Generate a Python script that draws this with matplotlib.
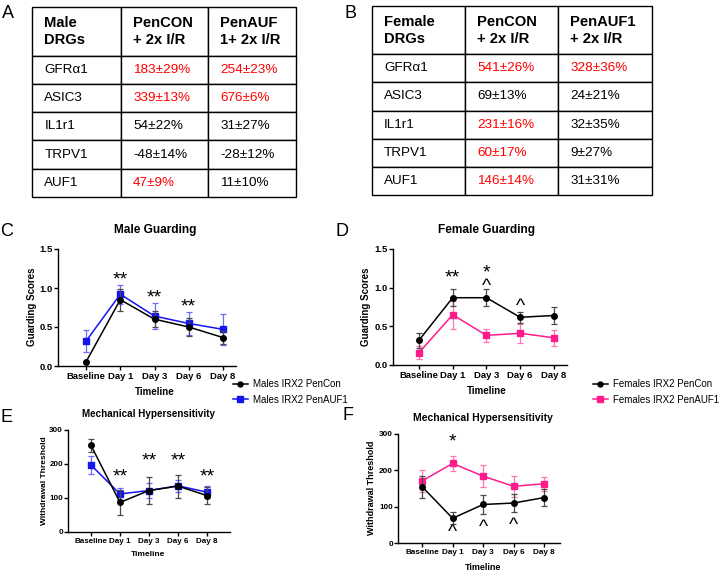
import matplotlib.pyplot as plt

# =====================
# 全局设置
# =====================
plt.rcParams['font.family'] = ['Liberation Sans', 'DejaVu Sans']

W, H = 720, 571

# =====================
# 数据
# =====================
genes = ['GFRα1', 'ASIC3', 'IL1r1', 'TRPV1', 'AUF1']

male_header = ['Male\nDRGs', 'PenCON\n+ 2x I/R', 'PenAUF\n1+ 2x I/R']
male_pencon = ['183±29%', '339±13%', '54±22%', '-48±14%', '47±9%']
male_penauf = ['254±23%', '676±6%', '31±27%', '-28±12%', '11±10%']
male_pencon_sig = [True, True, False, False, True]
male_penauf_sig = [True, True, False, False, False]

female_header = ['Female\nDRGs', 'PenCON\n+ 2x I/R', 'PenAUF1\n+ 2x I/R']
female_pencon = ['541±26%', '69±13%', '231±16%', '60±17%', '146±14%']
female_penauf = ['328±36%', '24±21%', '32±35%', '9±27%', '31±31%']
female_pencon_sig = [True, False, True, True, True]
female_penauf_sig = [True, False, False, False, False]

timeline = ['Baseline', 'Day 1', 'Day 3', 'Day 6', 'Day 8']

# C 雄性 guarding
male_guard_con = [0.055, 0.85, 0.60, 0.50, 0.365]
male_guard_con_err = [0.0, 0.14, 0.10, 0.11, 0.085]
male_guard_auf = [0.32, 0.92, 0.64, 0.545, 0.47]
male_guard_auf_err = [0.14, 0.12, 0.17, 0.15, 0.20]
male_guard_notes = [(1, '**', 1.145), (2, '**', 0.915), (3, '**', 0.80)]

# D 雌性 guarding
female_guard_con = [0.32, 0.87, 0.87, 0.617, 0.64]
female_guard_con_err = [0.10, 0.11, 0.11, 0.07, 0.115]
female_guard_auf = [0.16, 0.65, 0.383, 0.41, 0.352]
female_guard_auf_err = [0.08, 0.18, 0.08, 0.12, 0.105]
female_guard_notes = [(1, '**', 1.16), (2, '*\n^', 1.10), (3, '^', 0.81)]

# E 雄性 mechanical
male_mech_con = [255, 87, 122, 135, 107]
male_mech_con_err = [20, 38, 39, 34, 24]
male_mech_auf = [197, 112, 122, 136, 117]
male_mech_auf_err = [26, 17, 21, 17, 18]
male_mech_notes = [(1, '**', 171), (2, '**', 217), (3, '**', 218), (4, '**', 172)]

# F 雌性 mechanical
female_mech_con = [155, 68, 106, 110, 125]
female_mech_con_err = [30, 17, 25, 26, 23]
female_mech_auf = [171, 219, 184, 156, 163]
female_mech_auf_err = [31, 21, 30, 29, 20]
female_mech_notes = [(1, '*', 287), (1, '^', 39), (2, '^', 53), (3, '^', 60)]

BLUE = '#1414f0'
BLUE_ERR = '#6a6aff'
PINK = '#ff1c8a'
PINK_ERR = '#ff74b4'
RED = '#ff0000'


def add_ax(fig, box):
    l, t, r, b = box
    return fig.add_axes([l / W, 1 - b / H, (r - l) / W, (b - t) / H])


def px_ax(box, px, py):
    l, t, r, b = box
    return (px - l) / (r - l), (b - py) / (b - t)


# =====================
# 表格
# =====================
def draw_table(ax, header, col1, col2, sig1, sig2, col_w, pad):
    ax.axis('off')
    rows = [header] + [[g, a, b] for g, a, b in zip(genes, col1, col2)]
    tbl = ax.table(cellText=rows, cellLoc='left', colWidths=col_w,
                   bbox=[0, 0, 1, 1])
    tbl.auto_set_font_size(False)
    for (r, c), cell in tbl.get_celld().items():
        cell.set_height(48 if r == 0 else 28)
        cell.set_linewidth(1.0)
        cell.PAD = pad
        txt = cell.get_text()
        txt.set_linespacing(1.25)
        if r == 0:
            txt.set_fontweight('bold')
            txt.set_fontsize(10.6)
        else:
            txt.set_fontsize(9.7)
            if (c == 1 and sig1[r - 1]) or (c == 2 and sig2[r - 1]):
                txt.set_color(RED)


# =====================
# 折线图
# =====================
def draw_lines(ax, box, con, con_err, auf, auf_err, color, ecolor,
               labels, notes, yticks, ylabels, xlim,
               tick_fs, ylabel, ylabel_pos, xlabel_pos, label_fs,
               legend_pos=None):
    x = list(range(len(timeline)))
    ax.errorbar(x, auf, yerr=auf_err, fmt='none', ecolor=ecolor,
                elinewidth=0.9, capsize=2.5, capthick=0.9, zorder=2)
    h_auf, = ax.plot(x, auf, color=color, marker='s', ms=4.2, lw=1.1,
                     label=labels[1], zorder=3)
    ax.errorbar(x, con, yerr=con_err, fmt='none', ecolor='#4a4a4a',
                elinewidth=0.9, capsize=2.5, capthick=0.9, zorder=4)
    h_con, = ax.plot(x, con, color='black', marker='o', ms=4, lw=1.1,
                     label=labels[0], zorder=5)

    for i, s, yv in notes:
        if '\n' in s:
            dy = 0
        elif '*' in s:
            dy = -2.2
        else:
            dy = -3
        ax.annotate(s, xy=(i, yv), xytext=(0, dy), textcoords='offset points',
                    ha='center', va='center', fontsize=14, linespacing=0.72,
                    zorder=6)

    ax.set_xlim(*xlim)
    ax.set_ylim(yticks[0], yticks[-1])
    ax.set_xticks(x)
    ax.set_xticklabels(timeline)
    ax.set_yticks(yticks)
    ax.set_yticklabels(ylabels)
    for side in ['top', 'right']:
        ax.spines[side].set_visible(False)
    for side in ['left', 'bottom']:
        ax.spines[side].set_linewidth(1.0)
    ax.tick_params(direction='out', length=3, width=1.0, pad=1.0,
                   labelsize=tick_fs)
    ax.tick_params(axis='y', pad=0.6)
    for lab in ax.get_xticklabels() + ax.get_yticklabels():
        lab.set_fontweight('bold')

    ax.set_xlabel('Timeline', fontsize=label_fs, fontweight='bold', va='center')
    ax.xaxis.set_label_coords(*px_ax(box, *xlabel_pos))
    ax.set_ylabel(ylabel, fontsize=label_fs, fontweight='bold', va='center')
    ax.yaxis.set_label_coords(*px_ax(box, *ylabel_pos))

    if legend_pos is not None:
        ax.legend(handles=[h_con, h_auf], loc='upper left',
                  bbox_to_anchor=(legend_pos[0] / W, 1 - legend_pos[1] / H),
                  bbox_transform=ax.figure.transFigure, frameon=False,
                  borderpad=0, borderaxespad=0, handlelength=1.5,
                  handletextpad=0.6, labelspacing=0.6, fontsize=7,
                  markerscale=0.9)


# =====================
# 创建 Figure
# =====================
fig = plt.figure(figsize=(W / 100, H / 100), dpi=100)
fig.patch.set_facecolor('white')

ax_a = add_ax(fig, (32, 7, 296, 197))
draw_table(ax_a, male_header, male_pencon, male_penauf,
           male_pencon_sig, male_penauf_sig, [89, 87, 88], 0.14)

ax_b = add_ax(fig, (372, 6, 652, 195))
draw_table(ax_b, female_header, female_pencon, female_penauf,
           female_pencon_sig, female_penauf_sig, [93, 93, 94], 0.13)

box_c = (58, 249, 236, 366)
ax_c = add_ax(fig, box_c)
draw_lines(ax_c, box_c, male_guard_con, male_guard_con_err,
           male_guard_auf, male_guard_auf_err, BLUE, BLUE_ERR,
           ['Males IRX2 PenCon', 'Males IRX2 PenAUF1'], male_guard_notes,
           [0, 0.5, 1.0, 1.5], ['0.0', '0.5', '1.0', '1.5'], (-0.82, 4.38),
           6.8, 'Guarding Scores', (32, 307), (155, 392), 7,
           legend_pos=(233, 379))

box_d = (393, 249, 567, 365)
ax_d = add_ax(fig, box_d)
draw_lines(ax_d, box_d, female_guard_con, female_guard_con_err,
           female_guard_auf, female_guard_auf_err, PINK, PINK_ERR,
           ['Females IRX2 PenCon', 'Females IRX2 PenAUF1'], female_guard_notes,
           [0, 0.5, 1.0, 1.5], ['0.0', '0.5', '1.0', '1.5'], (-0.77, 4.39),
           6.8, 'Guarding Scores', (366, 307), (487, 391), 7,
           legend_pos=(593, 379))

box_e = (68, 430, 230, 532)
ax_e = add_ax(fig, box_e)
draw_lines(ax_e, box_e, male_mech_con, male_mech_con_err,
           male_mech_auf, male_mech_auf_err, BLUE, BLUE_ERR,
           ['Males IRX2 PenCon', 'Males IRX2 PenAUF1'], male_mech_notes,
           [0, 100, 200, 300], ['0', '100', '200', '300'], (-0.79, 4.79),
           5.8, 'Withdrawal Threshold', (45, 481), (148, 555), 6)

box_f = (398, 434, 560, 543)
ax_f = add_ax(fig, box_f)
draw_lines(ax_f, box_f, female_mech_con, female_mech_con_err,
           female_mech_auf, female_mech_auf_err, PINK, PINK_ERR,
           ['Females IRX2 PenCon', 'Females IRX2 PenAUF1'], female_mech_notes,
           [0, 100, 200, 300], ['0', '100', '200', '300'], (-0.79, 4.52),
           5.9, 'Withdrawal Threshold', (372, 488), (483, 567), 6.5)

# =====================
# 标题与面板字母
# =====================
titles = [('Male Guarding', 155, 230, 8.6),
          ('Female Guarding', 487, 230, 8.6),
          ('Mechanical Hypersensitivity', 148, 414, 7.1),
          ('Mechanical Hypersensitivity', 483, 418, 7.5)]
for text, tx, ty, fs in titles:
    fig.text(tx / W, 1 - ty / H, text, ha='center', va='center',
             fontsize=fs, fontweight='bold')

letters = [('A', 8, 14), ('B', 351, 14), ('C', 7, 231), ('D', 342, 231),
           ('E', 6, 418), ('F', 348, 416)]
for text, tx, ty in letters:
    fig.text(tx / W, 1 - ty / H, text, ha='center', va='center', fontsize=13)

fig.savefig('out.png', dpi=100)
